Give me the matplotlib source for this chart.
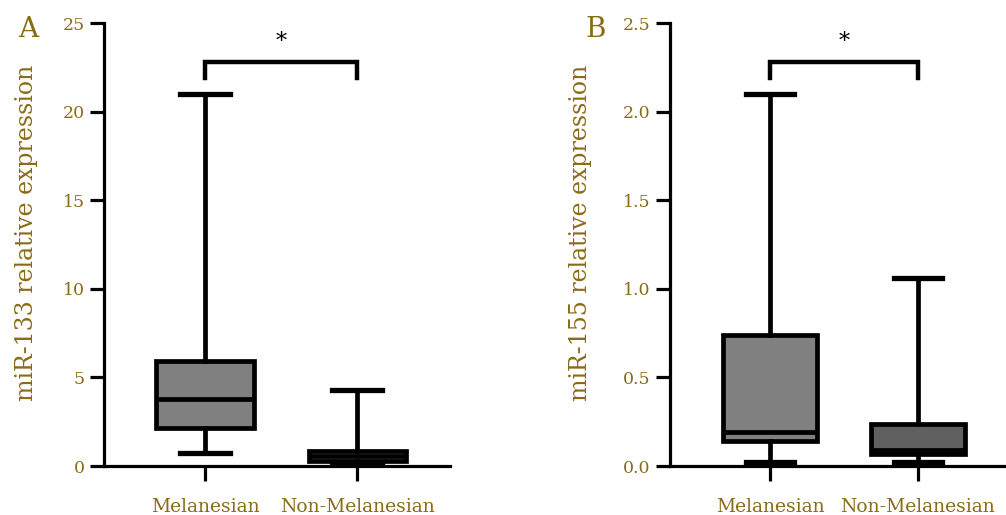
import matplotlib
matplotlib.use("Agg")
import matplotlib.pyplot as plt

# group names and summary stats
groups = ["Melanesian", "Non-Melanesian"]

mir133_low = [0.75, 0.15]
mir133_q1 = [2.15, 0.3]
mir133_med = [3.8, 0.55]
mir133_q3 = [5.9, 0.85]
mir133_high = [21.0, 4.3]

mir155_low = [0.02, 0.02]
mir155_q1 = [0.14, 0.07]
mir155_med = [0.19, 0.09]
mir155_q3 = [0.74, 0.24]
mir155_high = [2.1, 1.06]

box_colors_a = ["#808080", "#808080"]
box_colors_b = ["#808080", "#606060"]

gold = "#8a6b16"
plt.rcParams["font.family"] = ["DejaVu Serif"]

fig = plt.figure(figsize=(10.06, 5.15), dpi=100)
ax_a = fig.add_axes([0.1034, 0.0951, 0.344, 0.860])
ax_b = fig.add_axes([0.666, 0.0951, 0.334, 0.860])


def make_stats(low, q1, med, q3, high):
    return [dict(whislo=low[i], q1=q1[i], med=med[i], q3=q3[i], whishi=high[i], fliers=[])
            for i in range(len(low))]


def draw_panel(ax, stats, colors, ymax, step, ylabel, letter, sig_y, sig_h, xlim, fmt, label_x):
    lw = 3.4
    bp = ax.bxp(stats, positions=[1, 2], widths=0.64, patch_artist=True, showfliers=False,
                boxprops=dict(linewidth=lw, edgecolor="black"),
                medianprops=dict(linewidth=lw, color="black"),
                whiskerprops=dict(linewidth=lw, color="black"),
                capprops=dict(linewidth=lw + 0.4, color="black"), capwidths=0.33)
    for patch, c in zip(bp["boxes"], colors):
        patch.set_facecolor(c)
    ax.set_xlim(*xlim)
    ax.set_ylim(0, ymax)
    ticks = [i * step for i in range(int(round(ymax / step)) + 1)]
    ax.set_yticks(ticks)
    ax.set_yticklabels([fmt.format(t) for t in ticks])
    ax.set_xticks([1, 2])
    ax.set_xticklabels(groups)
    for s in ["top", "right"]:
        ax.spines[s].set_visible(False)
    ax.spines["left"].set_linewidth(2.3)
    ax.spines["bottom"].set_linewidth(2.3)
    ax.tick_params(axis="y", length=10, width=2.3, colors="black", labelcolor=gold,
                   labelsize=12.5, pad=4)
    ax.tick_params(axis="x", length=11, width=2.3, colors="black", labelcolor=gold,
                   labelsize=13.5, pad=12)
    ax.set_ylabel(ylabel, color=gold, fontsize=17)
    ax.yaxis.set_label_coords(label_x, 0.526)
    ax.text(-0.22, 0.985, letter, transform=ax.transAxes, color=gold, fontsize=20,
            ha="center", va="center")
    # significance bracket
    ax.plot([1, 1, 2, 2], [sig_y - sig_h, sig_y, sig_y, sig_y - sig_h], color="black",
            lw=3.2, solid_joinstyle="miter", clip_on=False)
    ax.text(1.5, sig_y + sig_h * 0.6, "*", ha="center", va="bottom", fontsize=16,
            color="black")
    return bp


draw_panel(ax_a, make_stats(mir133_low, mir133_q1, mir133_med, mir133_q3, mir133_high),
           box_colors_a, 25, 5, "miR-133 relative expression", "A", 22.8, 0.9,
           (0.336, 2.61), "{:.0f}", -0.19)
draw_panel(ax_b, make_stats(mir155_low, mir155_q1, mir155_med, mir155_q3, mir155_high),
           box_colors_b, 2.5, 0.5, "miR-155 relative expression", "B", 2.28, 0.09,
           (0.324, 2.595), "{:.1f}", -0.232)

fig.savefig("out.png", dpi=100)
